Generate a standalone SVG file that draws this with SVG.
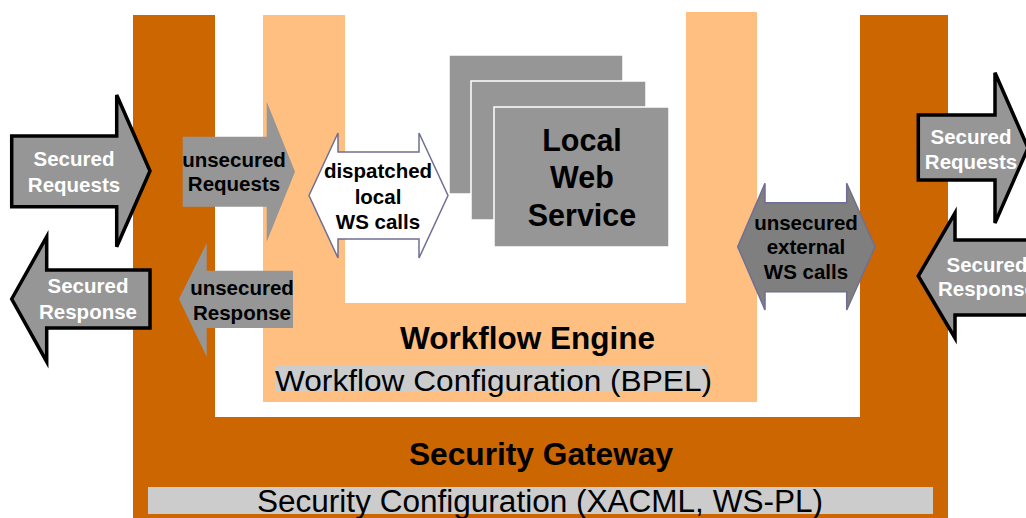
<svg xmlns="http://www.w3.org/2000/svg" width="1026" height="518" viewBox="0 0 1026 518">
<style>
.bold{font-family:"Liberation Sans",Arial,sans-serif;font-weight:bold;text-anchor:middle}
.reg{font-family:"Liberation Sans",Arial,sans-serif;font-weight:normal}
.lbl{font-size:20.5px;fill:#000}
.wlbl{font-size:20.5px;fill:#fff}
.sec{fill:#969696;stroke:#000;stroke-width:3.5;stroke-linejoin:miter}
.unsec{fill:#969696;stroke:none}
.dbl{stroke:#6f6f95;stroke-width:1.5}
.ws{fill:#969696;stroke:#fff;stroke-width:1.5}
</style>
<rect width="1026" height="518" fill="#fff"/>
<g id="security-gateway">
<path d="M133,15 H215 V417 H860 V15 H948 V518 H133 Z" fill="#CC6600"/>
<rect x="148" y="487" width="785" height="27" fill="#CCCCCC"/>
<text class="bold" x="541" y="465" font-size="31.7">Security Gateway</text>
<text class="reg" x="540" y="512" font-size="31" text-anchor="middle" textLength="566" lengthAdjust="spacingAndGlyphs">Security Configuration (XACML, WS-PL)</text>
</g>
<g id="workflow-engine">
<path d="M263,15 H345 V303 H686 V12 H757 V402 H263 Z" fill="#FFBF80"/>
<rect x="275" y="366" width="432" height="26" fill="#CCCCCC"/>
<text class="bold" x="527.5" y="349" font-size="31.5">Workflow Engine</text>
<text class="reg" x="275" y="391" font-size="30" textLength="437" lengthAdjust="spacingAndGlyphs">Workflow Configuration (BPEL)</text>
</g>
<g id="local-web-service">
<rect class="ws" x="449" y="55" width="174" height="139"/>
<rect class="ws" x="471" y="81" width="175" height="139"/>
<rect class="ws" x="494" y="107" width="175" height="140"/>
<text class="bold" x="582" y="151" font-size="30.5">Local</text>
<text class="bold" x="582" y="188" font-size="30.5">Web</text>
<text class="bold" x="582" y="226" font-size="30.5">Service</text>
</g>
<g id="connectors">
<g id="secured-requests-in">
<polygon class="sec" points="11.7,136 116.7,136 116.7,95 150,171 116.7,246.7 116.7,206.7 11.7,206.7"/>
<text class="bold wlbl" x="74" y="166">Secured</text>
<text class="bold wlbl" x="74" y="192">Requests</text>
</g>
<g id="secured-response-out">
<polygon class="sec" points="11.7,299 46.7,236.7 46.7,270 150,270 150,328 46.7,328 46.7,361.7"/>
<text class="bold wlbl" x="88" y="293">Secured</text>
<text class="bold wlbl" x="88" y="318.5">Response</text>
</g>
<g id="unsecured-requests">
<polygon class="unsec" points="182.7,136.7 266.7,136.7 266.7,101.7 295,171.7 266.7,241.7 266.7,206.7 182.7,206.7"/>
<text class="bold lbl" x="234" y="166.5">unsecured</text>
<text class="bold lbl" x="234" y="191">Requests</text>
</g>
<g id="unsecured-response">
<polygon class="unsec" points="179,299 206.7,243 206.7,270.7 293,270.7 293,328 206.7,328 206.7,356.7"/>
<text class="bold lbl" x="242" y="295">unsecured</text>
<text class="bold lbl" x="242" y="320">Response</text>
</g>
<g id="dispatched-local-ws-calls">
<polygon class="dbl" fill="#fff" points="309,195.5 338,133 338,152 419,152 419,133 448,195.5 419,258 419,239 338,239 338,258"/>
<text class="bold lbl" x="378" y="178">dispatched</text>
<text class="bold lbl" x="378" y="203.5">local</text>
<text class="bold lbl" x="378" y="229">WS calls</text>
</g>
<g id="unsecured-external-ws-calls">
<polygon class="dbl" fill="#7F7F7F" points="737.7,246.7 765,183.3 765,202.7 846.7,202.7 846.7,183.3 875,246.7 846.7,310 846.7,291.7 765,291.7 765,310"/>
<text class="bold lbl" x="806" y="230">unsecured</text>
<text class="bold lbl" x="806" y="254">external</text>
<text class="bold lbl" x="806" y="278.5">WS calls</text>
</g>
<g id="secured-requests-out">
<polygon class="sec" points="918.3,115 995,115 995,72.7 1028,148 995,223 995,180 918.3,180"/>
<text class="bold wlbl" x="971" y="143.5">Secured</text>
<text class="bold wlbl" x="971" y="168.5">Requests</text>
</g>
<g id="secured-response-in">
<polygon class="sec" points="918.3,276 955,213 955,240 1060,240 1060,315 955,315 955,338"/>
<text class="bold wlbl" x="987" y="271.5">Secured</text>
<text class="bold wlbl" x="987" y="296">Response</text>
</g>
</g>
</svg>
